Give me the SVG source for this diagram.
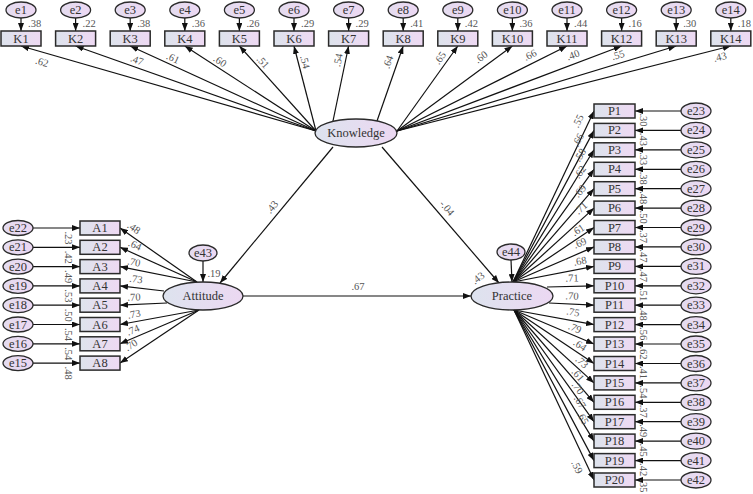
<svg xmlns="http://www.w3.org/2000/svg" width="753" height="494" viewBox="0 0 753 494">
<defs>
<linearGradient id="gBox" x1="0" y1="0" x2="1" y2="0"><stop offset="0" stop-color="#dde3ec"/><stop offset="1" stop-color="#eed9f3"/></linearGradient>
<linearGradient id="gErr" x1="0" y1="0" x2="1" y2="0"><stop offset="0" stop-color="#e4dcef"/><stop offset="1" stop-color="#ecd8f3"/></linearGradient>
<linearGradient id="gLat" x1="0" y1="0" x2="1" y2="0"><stop offset="0" stop-color="#dde3ee"/><stop offset="1" stop-color="#ecd8f2"/></linearGradient>
<marker id="ah" markerUnits="userSpaceOnUse" markerWidth="8" markerHeight="6" refX="8" refY="3" orient="auto"><path d="M0,0 L8,3 L0,6 z" fill="#111"/></marker>
<style>
.box{fill:url(#gBox);stroke:#2a2a2a;stroke-width:1.5}
.err{fill:url(#gErr);stroke:#2a2a2a;stroke-width:1.3}
.lat{fill:url(#gLat);stroke:#2a2a2a;stroke-width:1.3}
.nt{font-family:"Liberation Serif",serif;font-size:12.5px;fill:#333;text-anchor:middle;dominant-baseline:central}
.lb{font-family:"Liberation Serif",serif;font-size:10.5px;fill:#555;text-anchor:middle;dominant-baseline:central}
.ls{font-family:"Liberation Serif",serif;font-size:10.5px;fill:#555;text-anchor:start;dominant-baseline:central}
#connectors line{stroke:#111;stroke-width:1.2;marker-end:url(#ah)}
</style>
</defs>
<rect width="753" height="494" fill="#fff"/>

<g id="connectors">
<line x1="21" y1="18" x2="21" y2="31"/>
<line x1="75.6" y1="18" x2="75.6" y2="31"/>
<line x1="130.2" y1="18" x2="130.2" y2="31"/>
<line x1="184.8" y1="18" x2="184.8" y2="31"/>
<line x1="239.4" y1="18" x2="239.4" y2="31"/>
<line x1="294" y1="18" x2="294" y2="31"/>
<line x1="348.6" y1="18" x2="348.6" y2="31"/>
<line x1="403.2" y1="18" x2="403.2" y2="31"/>
<line x1="457.8" y1="18" x2="457.8" y2="31"/>
<line x1="512.4" y1="18" x2="512.4" y2="31"/>
<line x1="567" y1="18" x2="567" y2="31"/>
<line x1="621.6" y1="18" x2="621.6" y2="31"/>
<line x1="676.2" y1="18" x2="676.2" y2="31"/>
<line x1="730.8" y1="18" x2="730.8" y2="31"/>

<line x1="316" y1="131" x2="21" y2="46"/>
<line x1="316" y1="131" x2="75.6" y2="46"/>
<line x1="316" y1="131" x2="130.2" y2="46"/>
<line x1="316" y1="131" x2="184.8" y2="46"/>
<line x1="316" y1="131" x2="239.4" y2="46"/>
<line x1="316" y1="131" x2="294" y2="46"/>
<line x1="333" y1="121" x2="348.6" y2="46"/>
<line x1="377" y1="121" x2="403.2" y2="46"/>
<line x1="397" y1="131" x2="457.8" y2="46"/>
<line x1="397" y1="131" x2="512.4" y2="46"/>
<line x1="397" y1="131" x2="567" y2="46"/>
<line x1="397" y1="131" x2="621.6" y2="46"/>
<line x1="397" y1="131" x2="676.2" y2="46"/>
<line x1="397" y1="131" x2="730.8" y2="46"/>

<line x1="33" y1="228" x2="80" y2="228"/>
<line x1="33" y1="247.3" x2="80" y2="247.3"/>
<line x1="33" y1="266.6" x2="80" y2="266.6"/>
<line x1="33" y1="285.9" x2="80" y2="285.9"/>
<line x1="33" y1="305.2" x2="80" y2="305.2"/>
<line x1="33" y1="324.5" x2="80" y2="324.5"/>
<line x1="33" y1="343.8" x2="80" y2="343.8"/>
<line x1="33" y1="363.1" x2="80" y2="363.1"/>

<line x1="197" y1="282" x2="120" y2="228"/>
<line x1="197" y1="282" x2="120" y2="247.3"/>
<line x1="197" y1="282" x2="120" y2="266.6"/>
<line x1="164" y1="291" x2="120" y2="285.9"/>
<line x1="167" y1="303" x2="120" y2="305.2"/>
<line x1="199" y1="310" x2="120" y2="324.5"/>
<line x1="199" y1="310" x2="120" y2="343.8"/>
<line x1="199" y1="310" x2="120" y2="363.1"/>

<line x1="203" y1="261" x2="203" y2="282"/>
<line x1="511" y1="260" x2="512" y2="282"/>

<line x1="333" y1="147" x2="220" y2="283"/>
<line x1="382" y1="147" x2="499" y2="283"/>
<line x1="243" y1="296" x2="471" y2="296"/>

<line x1="513" y1="282" x2="594" y2="111"/>
<line x1="513" y1="282" x2="594" y2="130.4"/>
<line x1="513" y1="282" x2="594" y2="149.8"/>
<line x1="513" y1="282" x2="594" y2="169.3"/>
<line x1="513" y1="282" x2="594" y2="188.7"/>
<line x1="513" y1="282" x2="594" y2="208.1"/>
<line x1="513" y1="282" x2="594" y2="227.5"/>
<line x1="513" y1="282" x2="594" y2="246.9"/>
<line x1="513" y1="282" x2="594" y2="266.4"/>
<line x1="547" y1="287" x2="594" y2="285.8"/>
<line x1="549" y1="303" x2="594" y2="305.2"/>
<line x1="514" y1="310" x2="594" y2="324.6"/>
<line x1="514" y1="310" x2="594" y2="344"/>
<line x1="514" y1="310" x2="594" y2="363.5"/>
<line x1="514" y1="310" x2="594" y2="382.9"/>
<line x1="514" y1="310" x2="594" y2="402.3"/>
<line x1="514" y1="310" x2="594" y2="421.7"/>
<line x1="514" y1="310" x2="594" y2="441.1"/>
<line x1="514" y1="310" x2="594" y2="460.6"/>
<line x1="514" y1="310" x2="594" y2="480"/>

<line x1="681" y1="111" x2="635" y2="111"/>
<line x1="681" y1="130.4" x2="635" y2="130.4"/>
<line x1="681" y1="149.8" x2="635" y2="149.8"/>
<line x1="681" y1="169.3" x2="635" y2="169.3"/>
<line x1="681" y1="188.7" x2="635" y2="188.7"/>
<line x1="681" y1="208.1" x2="635" y2="208.1"/>
<line x1="681" y1="227.5" x2="635" y2="227.5"/>
<line x1="681" y1="246.9" x2="635" y2="246.9"/>
<line x1="681" y1="266.4" x2="635" y2="266.4"/>
<line x1="681" y1="285.8" x2="635" y2="285.8"/>
<line x1="681" y1="305.2" x2="635" y2="305.2"/>
<line x1="681" y1="324.6" x2="635" y2="324.6"/>
<line x1="681" y1="344" x2="635" y2="344"/>
<line x1="681" y1="363.5" x2="635" y2="363.5"/>
<line x1="681" y1="382.9" x2="635" y2="382.9"/>
<line x1="681" y1="402.3" x2="635" y2="402.3"/>
<line x1="681" y1="421.7" x2="635" y2="421.7"/>
<line x1="681" y1="441.1" x2="635" y2="441.1"/>
<line x1="681" y1="460.6" x2="635" y2="460.6"/>
<line x1="681" y1="480" x2="635" y2="480"/>
</g>

<g id="labels">
<text class="ls" x="28" y="23">.38</text>
<text class="ls" x="82.6" y="23">.22</text>
<text class="ls" x="137.2" y="23">.38</text>
<text class="ls" x="191.8" y="23">.36</text>
<text class="ls" x="246.4" y="23">.26</text>
<text class="ls" x="301" y="23">.29</text>
<text class="ls" x="355.6" y="23">.29</text>
<text class="ls" x="410.2" y="23">.41</text>
<text class="ls" x="464.8" y="23">.42</text>
<text class="ls" x="519.4" y="23">.36</text>
<text class="ls" x="574" y="23">.44</text>
<text class="ls" x="628.6" y="23">.16</text>
<text class="ls" x="683.2" y="23">.30</text>
<text class="ls" x="737.8" y="23">.18</text>

<text class="lb" x="42" y="62" transform="rotate(16.1 42 62)">.62</text>
<text class="lb" x="137" y="60" transform="rotate(19.5 137 60)">.47</text>
<text class="lb" x="173" y="58" transform="rotate(24.6 173 58)">.61</text>
<text class="lb" x="220" y="61" transform="rotate(32.9 220 61)">.60</text>
<text class="lb" x="263" y="62" transform="rotate(48 263 62)">.51</text>
<text class="lb" x="305" y="62" transform="rotate(75.5 305 62)">.54</text>
<text class="lb" x="338" y="60" transform="rotate(-78.3 338 60)">.54</text>
<text class="lb" x="388" y="62" transform="rotate(-70.7 388 62)">.64</text>
<text class="lb" x="440" y="58" transform="rotate(-54.4 440 58)">.65</text>
<text class="lb" x="481" y="57" transform="rotate(-36.4 481 57)">.60</text>
<text class="lb" x="530" y="55" transform="rotate(-26.6 530 55)">.66</text>
<text class="lb" x="573" y="55" transform="rotate(-20.7 573 55)">.40</text>
<text class="lb" x="618" y="55" transform="rotate(-16.9 618 55)">.55</text>
<text class="lb" x="720" y="57" transform="rotate(-14.3 720 57)">.43</text>

<text class="lb" x="68" y="238" transform="rotate(90 68 238)">.23</text>
<text class="lb" x="68" y="257.3" transform="rotate(90 68 257.3)">.42</text>
<text class="lb" x="68" y="276.6" transform="rotate(90 68 276.6)">.49</text>
<text class="lb" x="68" y="295.9" transform="rotate(90 68 295.9)">.53</text>
<text class="lb" x="68" y="315.2" transform="rotate(90 68 315.2)">.50</text>
<text class="lb" x="68" y="334.5" transform="rotate(90 68 334.5)">.54</text>
<text class="lb" x="68" y="353.8" transform="rotate(90 68 353.8)">.54</text>
<text class="lb" x="68" y="373.1" transform="rotate(90 68 373.1)">.48</text>

<text class="lb" x="134" y="228" transform="rotate(35 134 228)">.48</text>
<text class="lb" x="135" y="245" transform="rotate(24.3 135 245)">.64</text>
<text class="lb" x="134" y="262" transform="rotate(11.3 134 262)">.70</text>
<text class="lb" x="136" y="279" transform="rotate(6.6 136 279)">.73</text>
<text class="lb" x="134" y="297" transform="rotate(-2.4 134 297)">.70</text>
<text class="lb" x="134" y="314" transform="rotate(-10.4 134 314)">.73</text>
<text class="lb" x="133" y="330" transform="rotate(-23.2 133 330)">.74</text>
<text class="lb" x="131" y="345" transform="rotate(-33.9 131 345)">.70</text>

<text class="lb" x="214" y="273">.19</text>
<text class="lb" x="478" y="278" transform="rotate(-38 478 278)">.43</text>
<text class="lb" x="272" y="207" transform="rotate(-50.3 272 207)">.43</text>
<text class="lb" x="447" y="208" transform="rotate(49.3 447 208)">-.04</text>
<text class="lb" x="358" y="286">.67</text>

<text class="lb" x="578" y="121" transform="rotate(-64.7 578 121)">.55</text>
<text class="lb" x="578" y="140" transform="rotate(-61.9 578 140)">.66</text>
<text class="lb" x="580" y="155" transform="rotate(-58.5 580 155)">.58</text>
<text class="lb" x="580" y="172" transform="rotate(-54.3 580 172)">.62</text>
<text class="lb" x="580" y="191" transform="rotate(-49 580 191)">.69</text>
<text class="lb" x="581" y="208" transform="rotate(-42.4 581 208)">.71</text>
<text class="lb" x="578" y="230" transform="rotate(-33.9 578 230)">.61</text>
<text class="lb" x="580" y="243" transform="rotate(-23.4 580 243)">.69</text>
<text class="lb" x="580" y="261" transform="rotate(-10.9 580 261)">.68</text>
<text class="lb" x="572" y="278" transform="rotate(-1.5 572 278)">.71</text>
<text class="lb" x="572" y="296" transform="rotate(2.8 572 296)">.70</text>
<text class="lb" x="573" y="312" transform="rotate(10.3 573 312)">.75</text>
<text class="lb" x="575" y="328" transform="rotate(23 575 328)">.79</text>
<text class="lb" x="580" y="345" transform="rotate(33.8 580 345)">.64</text>
<text class="lb" x="582" y="362" transform="rotate(42.3 582 362)">.73</text>
<text class="lb" x="578" y="375" transform="rotate(49.1 578 375)">.61</text>
<text class="lb" x="578" y="388" transform="rotate(54.4 578 388)">.70</text>
<text class="lb" x="580" y="402" transform="rotate(58.6 580 402)">.67</text>
<text class="lb" x="583" y="418" transform="rotate(62 583 418)">.65</text>
<text class="lb" x="577" y="467" transform="rotate(64.8 577 467)">.59</text>

<text class="lb" x="643" y="120" transform="rotate(90 643 120)">.30</text>
<text class="lb" x="643" y="139.4" transform="rotate(90 643 139.4)">.43</text>
<text class="lb" x="643" y="158.8" transform="rotate(90 643 158.8)">.33</text>
<text class="lb" x="643" y="178.3" transform="rotate(90 643 178.3)">.38</text>
<text class="lb" x="643" y="197.7" transform="rotate(90 643 197.7)">.48</text>
<text class="lb" x="643" y="217.1" transform="rotate(90 643 217.1)">.50</text>
<text class="lb" x="643" y="236.5" transform="rotate(90 643 236.5)">.37</text>
<text class="lb" x="643" y="255.9" transform="rotate(90 643 255.9)">.47</text>
<text class="lb" x="643" y="275.4" transform="rotate(90 643 275.4)">.47</text>
<text class="lb" x="643" y="294.8" transform="rotate(90 643 294.8)">.51</text>
<text class="lb" x="643" y="314.2" transform="rotate(90 643 314.2)">.48</text>
<text class="lb" x="643" y="333.6" transform="rotate(90 643 333.6)">.56</text>
<text class="lb" x="643" y="353" transform="rotate(90 643 353)">.62</text>
<text class="lb" x="643" y="372.5" transform="rotate(90 643 372.5)">.41</text>
<text class="lb" x="643" y="391.9" transform="rotate(90 643 391.9)">.54</text>
<text class="lb" x="643" y="411.3" transform="rotate(90 643 411.3)">.37</text>
<text class="lb" x="643" y="430.7" transform="rotate(90 643 430.7)">.49</text>
<text class="lb" x="643" y="450.1" transform="rotate(90 643 450.1)">.45</text>
<text class="lb" x="643" y="469.6" transform="rotate(90 643 469.6)">.42</text>
<text class="lb" x="643" y="486" transform="rotate(90 643 486)">.35</text>
</g>

<g id="Knowledge"><ellipse class="lat" cx="356" cy="133" rx="41" ry="14"/><text class="nt" x="356" y="133">Knowledge</text></g>
<g id="Attitude"><ellipse class="lat" cx="203" cy="296" rx="40" ry="14"/><text class="nt" x="203" y="296">Attitude</text></g>
<g id="Practice"><ellipse class="lat" cx="512" cy="296" rx="41" ry="14"/><text class="nt" x="512" y="296">Practice</text></g>

<g id="e1"><ellipse class="err" cx="21" cy="10" rx="15" ry="8"/><text class="nt" x="21" y="10">e1</text></g>
<g id="e2"><ellipse class="err" cx="75.6" cy="10" rx="15" ry="8"/><text class="nt" x="75.6" y="10">e2</text></g>
<g id="e3"><ellipse class="err" cx="130.2" cy="10" rx="15" ry="8"/><text class="nt" x="130.2" y="10">e3</text></g>
<g id="e4"><ellipse class="err" cx="184.8" cy="10" rx="15" ry="8"/><text class="nt" x="184.8" y="10">e4</text></g>
<g id="e5"><ellipse class="err" cx="239.4" cy="10" rx="15" ry="8"/><text class="nt" x="239.4" y="10">e5</text></g>
<g id="e6"><ellipse class="err" cx="294" cy="10" rx="15" ry="8"/><text class="nt" x="294" y="10">e6</text></g>
<g id="e7"><ellipse class="err" cx="348.6" cy="10" rx="15" ry="8"/><text class="nt" x="348.6" y="10">e7</text></g>
<g id="e8"><ellipse class="err" cx="403.2" cy="10" rx="15" ry="8"/><text class="nt" x="403.2" y="10">e8</text></g>
<g id="e9"><ellipse class="err" cx="457.8" cy="10" rx="15" ry="8"/><text class="nt" x="457.8" y="10">e9</text></g>
<g id="e10"><ellipse class="err" cx="512.4" cy="10" rx="15" ry="8"/><text class="nt" x="512.4" y="10">e10</text></g>
<g id="e11"><ellipse class="err" cx="567" cy="10" rx="15" ry="8"/><text class="nt" x="567" y="10">e11</text></g>
<g id="e12"><ellipse class="err" cx="621.6" cy="10" rx="15" ry="8"/><text class="nt" x="621.6" y="10">e12</text></g>
<g id="e13"><ellipse class="err" cx="676.2" cy="10" rx="15" ry="8"/><text class="nt" x="676.2" y="10">e13</text></g>
<g id="e14"><ellipse class="err" cx="730.8" cy="10" rx="15" ry="8"/><text class="nt" x="730.8" y="10">e14</text></g>

<g id="K1"><rect class="box" x="1" y="31" width="40" height="15"/><text class="nt" x="21" y="38.5">K1</text></g>
<g id="K2"><rect class="box" x="55.6" y="31" width="40" height="15"/><text class="nt" x="75.6" y="38.5">K2</text></g>
<g id="K3"><rect class="box" x="110.2" y="31" width="40" height="15"/><text class="nt" x="130.2" y="38.5">K3</text></g>
<g id="K4"><rect class="box" x="164.8" y="31" width="40" height="15"/><text class="nt" x="184.8" y="38.5">K4</text></g>
<g id="K5"><rect class="box" x="219.4" y="31" width="40" height="15"/><text class="nt" x="239.4" y="38.5">K5</text></g>
<g id="K6"><rect class="box" x="274" y="31" width="40" height="15"/><text class="nt" x="294" y="38.5">K6</text></g>
<g id="K7"><rect class="box" x="328.6" y="31" width="40" height="15"/><text class="nt" x="348.6" y="38.5">K7</text></g>
<g id="K8"><rect class="box" x="383.2" y="31" width="40" height="15"/><text class="nt" x="403.2" y="38.5">K8</text></g>
<g id="K9"><rect class="box" x="437.8" y="31" width="40" height="15"/><text class="nt" x="457.8" y="38.5">K9</text></g>
<g id="K10"><rect class="box" x="492.4" y="31" width="40" height="15"/><text class="nt" x="512.4" y="38.5">K10</text></g>
<g id="K11"><rect class="box" x="547" y="31" width="40" height="15"/><text class="nt" x="567" y="38.5">K11</text></g>
<g id="K12"><rect class="box" x="601.6" y="31" width="40" height="15"/><text class="nt" x="621.6" y="38.5">K12</text></g>
<g id="K13"><rect class="box" x="656.2" y="31" width="40" height="15"/><text class="nt" x="676.2" y="38.5">K13</text></g>
<g id="K14"><rect class="box" x="710.8" y="31" width="40" height="15"/><text class="nt" x="730.8" y="38.5">K14</text></g>

<g id="e22"><ellipse class="err" cx="18" cy="228" rx="15" ry="7.5"/><text class="nt" x="18" y="228">e22</text></g>
<g id="e21"><ellipse class="err" cx="18" cy="247.3" rx="15" ry="7.5"/><text class="nt" x="18" y="247.3">e21</text></g>
<g id="e20"><ellipse class="err" cx="18" cy="266.6" rx="15" ry="7.5"/><text class="nt" x="18" y="266.6">e20</text></g>
<g id="e19"><ellipse class="err" cx="18" cy="285.9" rx="15" ry="7.5"/><text class="nt" x="18" y="285.9">e19</text></g>
<g id="e18"><ellipse class="err" cx="18" cy="305.2" rx="15" ry="7.5"/><text class="nt" x="18" y="305.2">e18</text></g>
<g id="e17"><ellipse class="err" cx="18" cy="324.5" rx="15" ry="7.5"/><text class="nt" x="18" y="324.5">e17</text></g>
<g id="e16"><ellipse class="err" cx="18" cy="343.8" rx="15" ry="7.5"/><text class="nt" x="18" y="343.8">e16</text></g>
<g id="e15"><ellipse class="err" cx="18" cy="363.1" rx="15" ry="7.5"/><text class="nt" x="18" y="363.1">e15</text></g>

<g id="A1"><rect class="box" x="80" y="221" width="40" height="14"/><text class="nt" x="100" y="228">A1</text></g>
<g id="A2"><rect class="box" x="80" y="240.3" width="40" height="14"/><text class="nt" x="100" y="247.3">A2</text></g>
<g id="A3"><rect class="box" x="80" y="259.6" width="40" height="14"/><text class="nt" x="100" y="266.6">A3</text></g>
<g id="A4"><rect class="box" x="80" y="278.9" width="40" height="14"/><text class="nt" x="100" y="285.9">A4</text></g>
<g id="A5"><rect class="box" x="80" y="298.2" width="40" height="14"/><text class="nt" x="100" y="305.2">A5</text></g>
<g id="A6"><rect class="box" x="80" y="317.5" width="40" height="14"/><text class="nt" x="100" y="324.5">A6</text></g>
<g id="A7"><rect class="box" x="80" y="336.8" width="40" height="14"/><text class="nt" x="100" y="343.8">A7</text></g>
<g id="A8"><rect class="box" x="80" y="356.1" width="40" height="14"/><text class="nt" x="100" y="363.1">A8</text></g>

<g id="e43"><ellipse class="err" cx="203" cy="253" rx="14" ry="8"/><text class="nt" x="203" y="253">e43</text></g>
<g id="e44"><ellipse class="err" cx="511" cy="252" rx="14" ry="8"/><text class="nt" x="511" y="252">e44</text></g>

<g id="P1"><rect class="box" x="594" y="104" width="41" height="14"/><text class="nt" x="614.5" y="111">P1</text></g>
<g id="P2"><rect class="box" x="594" y="123.4" width="41" height="14"/><text class="nt" x="614.5" y="130.4">P2</text></g>
<g id="P3"><rect class="box" x="594" y="142.8" width="41" height="14"/><text class="nt" x="614.5" y="149.8">P3</text></g>
<g id="P4"><rect class="box" x="594" y="162.3" width="41" height="14"/><text class="nt" x="614.5" y="169.3">P4</text></g>
<g id="P5"><rect class="box" x="594" y="181.7" width="41" height="14"/><text class="nt" x="614.5" y="188.7">P5</text></g>
<g id="P6"><rect class="box" x="594" y="201.1" width="41" height="14"/><text class="nt" x="614.5" y="208.1">P6</text></g>
<g id="P7"><rect class="box" x="594" y="220.5" width="41" height="14"/><text class="nt" x="614.5" y="227.5">P7</text></g>
<g id="P8"><rect class="box" x="594" y="239.9" width="41" height="14"/><text class="nt" x="614.5" y="246.9">P8</text></g>
<g id="P9"><rect class="box" x="594" y="259.4" width="41" height="14"/><text class="nt" x="614.5" y="266.4">P9</text></g>
<g id="P10"><rect class="box" x="594" y="278.8" width="41" height="14"/><text class="nt" x="614.5" y="285.8">P10</text></g>
<g id="P11"><rect class="box" x="594" y="298.2" width="41" height="14"/><text class="nt" x="614.5" y="305.2">P11</text></g>
<g id="P12"><rect class="box" x="594" y="317.6" width="41" height="14"/><text class="nt" x="614.5" y="324.6">P12</text></g>
<g id="P13"><rect class="box" x="594" y="337" width="41" height="14"/><text class="nt" x="614.5" y="344">P13</text></g>
<g id="P14"><rect class="box" x="594" y="356.5" width="41" height="14"/><text class="nt" x="614.5" y="363.5">P14</text></g>
<g id="P15"><rect class="box" x="594" y="375.9" width="41" height="14"/><text class="nt" x="614.5" y="382.9">P15</text></g>
<g id="P16"><rect class="box" x="594" y="395.3" width="41" height="14"/><text class="nt" x="614.5" y="402.3">P16</text></g>
<g id="P17"><rect class="box" x="594" y="414.7" width="41" height="14"/><text class="nt" x="614.5" y="421.7">P17</text></g>
<g id="P18"><rect class="box" x="594" y="434.1" width="41" height="14"/><text class="nt" x="614.5" y="441.1">P18</text></g>
<g id="P19"><rect class="box" x="594" y="453.6" width="41" height="14"/><text class="nt" x="614.5" y="460.6">P19</text></g>
<g id="P20"><rect class="box" x="594" y="473" width="41" height="14"/><text class="nt" x="614.5" y="480">P20</text></g>

<g id="e23"><ellipse class="err" cx="696" cy="111" rx="15" ry="8"/><text class="nt" x="696" y="111">e23</text></g>
<g id="e24"><ellipse class="err" cx="696" cy="130.4" rx="15" ry="8"/><text class="nt" x="696" y="130.4">e24</text></g>
<g id="e25"><ellipse class="err" cx="696" cy="149.8" rx="15" ry="8"/><text class="nt" x="696" y="149.8">e25</text></g>
<g id="e26"><ellipse class="err" cx="696" cy="169.3" rx="15" ry="8"/><text class="nt" x="696" y="169.3">e26</text></g>
<g id="e27"><ellipse class="err" cx="696" cy="188.7" rx="15" ry="8"/><text class="nt" x="696" y="188.7">e27</text></g>
<g id="e28"><ellipse class="err" cx="696" cy="208.1" rx="15" ry="8"/><text class="nt" x="696" y="208.1">e28</text></g>
<g id="e29"><ellipse class="err" cx="696" cy="227.5" rx="15" ry="8"/><text class="nt" x="696" y="227.5">e29</text></g>
<g id="e30"><ellipse class="err" cx="696" cy="246.9" rx="15" ry="8"/><text class="nt" x="696" y="246.9">e30</text></g>
<g id="e31"><ellipse class="err" cx="696" cy="266.4" rx="15" ry="8"/><text class="nt" x="696" y="266.4">e31</text></g>
<g id="e32"><ellipse class="err" cx="696" cy="285.8" rx="15" ry="8"/><text class="nt" x="696" y="285.8">e32</text></g>
<g id="e33"><ellipse class="err" cx="696" cy="305.2" rx="15" ry="8"/><text class="nt" x="696" y="305.2">e33</text></g>
<g id="e34"><ellipse class="err" cx="696" cy="324.6" rx="15" ry="8"/><text class="nt" x="696" y="324.6">e34</text></g>
<g id="e35"><ellipse class="err" cx="696" cy="344" rx="15" ry="8"/><text class="nt" x="696" y="344">e35</text></g>
<g id="e36"><ellipse class="err" cx="696" cy="363.5" rx="15" ry="8"/><text class="nt" x="696" y="363.5">e36</text></g>
<g id="e37"><ellipse class="err" cx="696" cy="382.9" rx="15" ry="8"/><text class="nt" x="696" y="382.9">e37</text></g>
<g id="e38"><ellipse class="err" cx="696" cy="402.3" rx="15" ry="8"/><text class="nt" x="696" y="402.3">e38</text></g>
<g id="e39"><ellipse class="err" cx="696" cy="421.7" rx="15" ry="8"/><text class="nt" x="696" y="421.7">e39</text></g>
<g id="e40"><ellipse class="err" cx="696" cy="441.1" rx="15" ry="8"/><text class="nt" x="696" y="441.1">e40</text></g>
<g id="e41"><ellipse class="err" cx="696" cy="460.6" rx="15" ry="8"/><text class="nt" x="696" y="460.6">e41</text></g>
<g id="e42"><ellipse class="err" cx="696" cy="480" rx="15" ry="8"/><text class="nt" x="696" y="480">e42</text></g>
</svg>
